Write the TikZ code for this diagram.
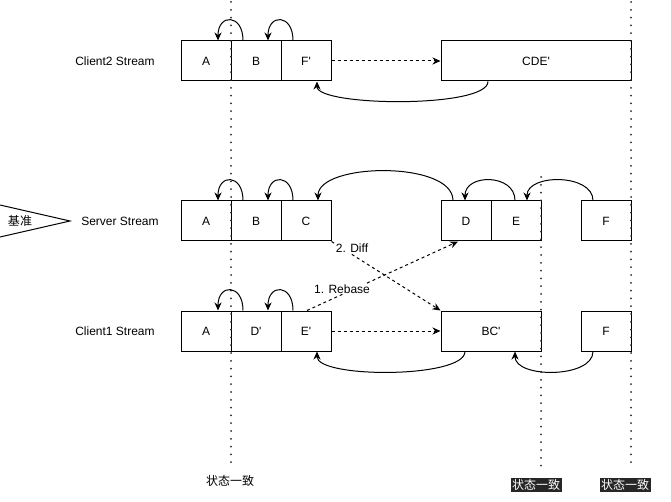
\documentclass[tikz,border=0pt]{standalone}
\usepackage{fontspec}
\setmainfont{Liberation Sans}
\newfontfamily\cjk{Noto Sans CJK SC}
\usetikzlibrary{arrows.meta}
\newcommand{\pr}{\textquotesingle}
\begin{document}
\begin{tikzpicture}[x=1pt,y=-1pt,
  txt/.style={font=\fontsize{12}{14}\selectfont, inner sep=1pt},
  box/.style={draw, line width=1pt, fill=white, minimum height=40pt, inner sep=0pt, font=\fontsize{12}{14}\selectfont},
  cell/.style={box, minimum width=50pt},
  carr/.style={line width=1pt, -{Stealth[length=8pt,width=7pt,inset=2.5pt]}},
  darr/.style={carr, dash pattern=on 3pt off 3pt},
  vdots/.style={line width=2pt, black!85, dash pattern=on 0pt off 7.8pt, line cap=round},
  cjklab/.style={font=\cjk\fontsize{12}{14}\selectfont, inner sep=1pt},
  darklab/.style={cjklab, fill=black!85, text=white, inner sep=1.5pt}
]
\useasboundingbox (0,0) rectangle (671,502);
% row labels
\node[txt] (l2) at (115,61) {Client2 Stream};
\node[txt] (ls) at (120,221) {Server Stream};
\node[txt] (l1) at (115,331) {Client1 Stream};
% flag
\draw[line width=1pt, fill=white] (0,205) -- (70,221) -- (0,237);
\node[cjklab] (flag) at (20,221) {基准};
% Client2 row
\node[cell] (A2) at (206,61) {A};
\node[cell] (B2) at (256,61) {B};
\node[cell] (F2) at (306,61) {F\pr};
\node[box, minimum width=190pt] (CDE) at (536,61) {CDE\pr};
% Server row
\node[cell] (As) at (206,221) {A};
\node[cell] (Bs) at (256,221) {B};
\node[cell] (Cs) at (306,221) {C};
\node[cell] (Ds) at (466,221) {D};
\node[cell] (Es) at (516,221) {E};
\node[cell] (Fs) at (606,221) {F};
% Client1 row
\node[cell] (A1) at (206,331) {A};
\node[cell] (D1) at (256,331) {D\pr};
\node[cell] (E1) at (306,331) {E\pr};
\node[box, minimum width=100pt] (BC) at (491,331) {BC\pr};
\node[cell] (F1) at (606,331) {F};
% dotted lines
\coordinate (v1t) at (231,2);
\coordinate (v1b) at (231,466);
\coordinate (v2t) at (541,177);
\coordinate (v2b) at (541,466);
\coordinate (v3t) at (631,2);
\coordinate (v3b) at (631,466);
\draw[vdots] (v1t) -- (v1b);
\draw[vdots] (v2t) -- (v2b);
\draw[vdots] (v3t) -- (v3b);
% Client2 curves
\draw[carr] ([xshift=-13pt]B2.north) .. controls +(0,-27) and +(0,-27) .. ([xshift=12pt]A2.north);
\draw[carr] ([xshift=-13pt]F2.north) .. controls +(0,-27) and +(0,-27) .. ([xshift=12pt]B2.north);
\draw[carr] ([xshift=-48pt]CDE.south) .. controls +(0,27) and +(0,25) .. ([xshift=11pt]F2.south);
\draw[darr] (F2.east) -- (CDE.west);
% Server curves
\draw[carr] ([xshift=-13pt]Bs.north) .. controls +(0,-27) and +(0,-27) .. ([xshift=12pt]As.north);
\draw[carr] ([xshift=-13pt]Cs.north) .. controls +(0,-27) and +(0,-27) .. ([xshift=12pt]Bs.north);
\draw[carr] ([xshift=-13pt]Ds.north) .. controls +(0,-40) and +(0,-38) .. ([xshift=12pt]Cs.north);
\draw[carr] ([xshift=-1pt]Es.north) .. controls +(0,-27) and +(0,-27) .. ([xshift=-1pt]Ds.north);
\draw[carr] ([xshift=-13pt]Fs.north) .. controls +(0,-27) and +(0,-27) .. ([xshift=11pt]Es.north);
% Client1 curves
\draw[carr] ([xshift=-13pt]D1.north) .. controls +(0,-27) and +(0,-27) .. ([xshift=12pt]A1.north);
\draw[carr] ([xshift=-13pt]E1.north) .. controls +(0,-27) and +(0,-27) .. ([xshift=12pt]D1.north);
\draw[carr] ([xshift=-26pt]BC.south) .. controls +(0,27) and +(0,27) .. ([xshift=11pt]E1.south);
\draw[carr] ([xshift=-13pt]F1.south) .. controls +(0,27) and +(0,27) .. ([xshift=24pt]BC.south);
\draw[darr] (E1.east) -- (BC.west);
% diagonals
\draw[darr] (Cs.south east) -- (BC.north west);
\draw[darr] ([xshift=1pt]E1.north) -- ([xshift=-8pt]Ds.south);
\node[txt, fill=white] (diff) at (352,248) {2. Diff};
\node[txt, fill=white] (rebase) at (342,289) {1. Rebase};
% bottom labels
\node[cjklab] (s1) at (230,481) {状态一致};
\node[darklab] (s2) at (536,485) {状态一致};
\node[darklab] (s3) at (625,485) {状态一致};
\end{tikzpicture}
\end{document}
